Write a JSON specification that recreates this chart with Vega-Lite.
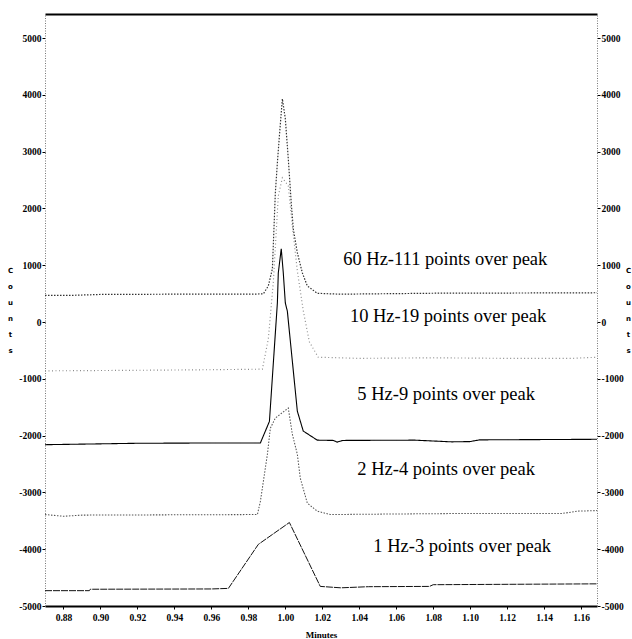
{
  "$schema": "https://vega.github.io/schema/vega-lite/v6.json",
  "width": 552,
  "height": 592,
  "autosize": {"type": "none"},
  "padding": {"left": 45, "top": 14, "right": 35, "bottom": 33},
  "background": "white",
  "config": {"view": {"stroke": null}},
  "datasets": {
    "traces": [
      {"t": 0.870, "c": 470, "s": "60 Hz"},
      {"t": 0.885, "c": 470, "s": "60 Hz"},
      {"t": 0.900, "c": 485, "s": "60 Hz"},
      {"t": 0.940, "c": 490, "s": "60 Hz"},
      {"t": 0.980, "c": 490, "s": "60 Hz"},
      {"t": 0.9881, "c": 495, "s": "60 Hz"},
      {"t": 0.9908, "c": 635, "s": "60 Hz"},
      {"t": 0.9930, "c": 935, "s": "60 Hz"},
      {"t": 0.9937, "c": 1520, "s": "60 Hz"},
      {"t": 0.9946, "c": 2275, "s": "60 Hz"},
      {"t": 0.9957, "c": 2800, "s": "60 Hz"},
      {"t": 0.9968, "c": 3280, "s": "60 Hz"},
      {"t": 0.9984, "c": 3930, "s": "60 Hz"},
      {"t": 1.0000, "c": 3580, "s": "60 Hz"},
      {"t": 1.0016, "c": 2875, "s": "60 Hz"},
      {"t": 1.0032, "c": 2100, "s": "60 Hz"},
      {"t": 1.0043, "c": 1640, "s": "60 Hz"},
      {"t": 1.0065, "c": 1220, "s": "60 Hz"},
      {"t": 1.0092, "c": 865, "s": "60 Hz"},
      {"t": 1.0119, "c": 635, "s": "60 Hz"},
      {"t": 1.0173, "c": 505, "s": "60 Hz"},
      {"t": 1.030, "c": 490, "s": "60 Hz"},
      {"t": 1.060, "c": 500, "s": "60 Hz"},
      {"t": 1.090, "c": 510, "s": "60 Hz"},
      {"t": 1.120, "c": 510, "s": "60 Hz"},
      {"t": 1.1686, "c": 515, "s": "60 Hz"},

      {"t": 0.870, "c": -860, "s": "10 Hz"},
      {"t": 0.920, "c": -850, "s": "10 Hz"},
      {"t": 0.960, "c": -840, "s": "10 Hz"},
      {"t": 0.9876, "c": -830, "s": "10 Hz"},
      {"t": 0.9908, "c": -300, "s": "10 Hz"},
      {"t": 0.9935, "c": 700, "s": "10 Hz"},
      {"t": 0.9951, "c": 1600, "s": "10 Hz"},
      {"t": 0.9962, "c": 2220, "s": "10 Hz"},
      {"t": 0.9984, "c": 2540, "s": "10 Hz"},
      {"t": 1.0016, "c": 2400, "s": "10 Hz"},
      {"t": 1.0038, "c": 1690, "s": "10 Hz"},
      {"t": 1.0065, "c": 900, "s": "10 Hz"},
      {"t": 1.0097, "c": 200, "s": "10 Hz"},
      {"t": 1.0130, "c": -350, "s": "10 Hz"},
      {"t": 1.0178, "c": -620, "s": "10 Hz"},
      {"t": 1.040, "c": -640, "s": "10 Hz"},
      {"t": 1.080, "c": -630, "s": "10 Hz"},
      {"t": 1.120, "c": -640, "s": "10 Hz"},
      {"t": 1.155, "c": -640, "s": "10 Hz"},
      {"t": 1.1686, "c": -620, "s": "10 Hz"},

      {"t": 0.870, "c": -2160, "s": "5 Hz"},
      {"t": 0.890, "c": -2150, "s": "5 Hz"},
      {"t": 0.920, "c": -2135, "s": "5 Hz"},
      {"t": 0.960, "c": -2130, "s": "5 Hz"},
      {"t": 0.9865, "c": -2130, "s": "5 Hz"},
      {"t": 0.9914, "c": -1750, "s": "5 Hz"},
      {"t": 0.9957, "c": 335, "s": "5 Hz"},
      {"t": 0.9962, "c": 865, "s": "5 Hz"},
      {"t": 0.9978, "c": 1290, "s": "5 Hz"},
      {"t": 0.9989, "c": 865, "s": "5 Hz"},
      {"t": 1.0000, "c": 335, "s": "5 Hz"},
      {"t": 1.0011, "c": 190, "s": "5 Hz"},
      {"t": 1.0065, "c": -1570, "s": "5 Hz"},
      {"t": 1.0097, "c": -1920, "s": "5 Hz"},
      {"t": 1.0173, "c": -2080, "s": "5 Hz"},
      {"t": 1.026, "c": -2085, "s": "5 Hz"},
      {"t": 1.028, "c": -2115, "s": "5 Hz"},
      {"t": 1.031, "c": -2085, "s": "5 Hz"},
      {"t": 1.070, "c": -2080, "s": "5 Hz"},
      {"t": 1.090, "c": -2110, "s": "5 Hz"},
      {"t": 1.100, "c": -2105, "s": "5 Hz"},
      {"t": 1.105, "c": -2075, "s": "5 Hz"},
      {"t": 1.1686, "c": -2065, "s": "5 Hz"},

      {"t": 0.870, "c": -3390, "s": "2 Hz"},
      {"t": 0.880, "c": -3420, "s": "2 Hz"},
      {"t": 0.890, "c": -3400, "s": "2 Hz"},
      {"t": 0.9849, "c": -3390, "s": "2 Hz"},
      {"t": 0.9865, "c": -3160, "s": "2 Hz"},
      {"t": 0.9903, "c": -2330, "s": "2 Hz"},
      {"t": 0.9919, "c": -1870, "s": "2 Hz"},
      {"t": 0.9946, "c": -1690, "s": "2 Hz"},
      {"t": 1.0016, "c": -1515, "s": "2 Hz"},
      {"t": 1.0038, "c": -1975, "s": "2 Hz"},
      {"t": 1.0065, "c": -2330, "s": "2 Hz"},
      {"t": 1.0081, "c": -2750, "s": "2 Hz"},
      {"t": 1.0119, "c": -3190, "s": "2 Hz"},
      {"t": 1.0173, "c": -3330, "s": "2 Hz"},
      {"t": 1.0243, "c": -3390, "s": "2 Hz"},
      {"t": 1.060, "c": -3380, "s": "2 Hz"},
      {"t": 1.100, "c": -3370, "s": "2 Hz"},
      {"t": 1.150, "c": -3370, "s": "2 Hz"},
      {"t": 1.158, "c": -3330, "s": "2 Hz"},
      {"t": 1.1686, "c": -3320, "s": "2 Hz"},

      {"t": 0.870, "c": -4730, "s": "1 Hz"},
      {"t": 0.894, "c": -4730, "s": "1 Hz"},
      {"t": 0.8945, "c": -4705, "s": "1 Hz"},
      {"t": 0.960, "c": -4700, "s": "1 Hz"},
      {"t": 0.9692, "c": -4690, "s": "1 Hz"},
      {"t": 0.9854, "c": -3915, "s": "1 Hz"},
      {"t": 1.0022, "c": -3530, "s": "1 Hz"},
      {"t": 1.0189, "c": -4655, "s": "1 Hz"},
      {"t": 1.030, "c": -4680, "s": "1 Hz"},
      {"t": 1.045, "c": -4660, "s": "1 Hz"},
      {"t": 1.078, "c": -4655, "s": "1 Hz"},
      {"t": 1.080, "c": -4625, "s": "1 Hz"},
      {"t": 1.1686, "c": -4610, "s": "1 Hz"}
    ],
    "labels": [
      {"t": 1.0865, "c": 1110, "label": "60 Hz-111 points over peak"},
      {"t": 1.0880, "c": 105, "label": "10 Hz-19 points over peak"},
      {"t": 1.0870, "c": -1270, "label": "5 Hz-9 points over peak"},
      {"t": 1.0870, "c": -2590, "label": "2 Hz-4 points over peak"},
      {"t": 1.0957, "c": -3950, "label": "1 Hz-3 points over peak"}
    ]
  },
  "resolve": {"axis": {"x": "independent", "y": "independent"}},
  "layer": [
    {
      "data": {"name": "traces"},
      "mark": {"type": "line", "interpolate": "linear", "strokeCap": "butt"},
      "encoding": {
        "x": {
          "field": "t", "type": "quantitative",
          "scale": {"domain": [0.870, 1.1686], "nice": false, "zero": false},
          "axis": {
            "orient": "bottom",
            "values": [0.88, 0.90, 0.92, 0.94, 0.96, 0.98, 1.00, 1.02, 1.04, 1.06, 1.08, 1.10, 1.12, 1.14, 1.16],
            "format": ".2f",
            "grid": false,
            "domainColor": "#000", "domainWidth": 2,
            "tickColor": "#000", "tickSize": 3, "tickWidth": 1,
            "labelFont": "Liberation Sans Narrow", "labelFontWeight": "bold", "labelFontSize": 9.5, "labelColor": "#000",
            "labelPadding": 3,
            "title": "Minutes",
            "titleFont": "Liberation Sans Narrow", "titleFontWeight": "bold", "titleFontSize": 9, "titleColor": "#000",
            "titleY": 24, "titleBaseline": "top"
          }
        },
        "y": {
          "field": "c", "type": "quantitative",
          "scale": {"domain": [-5000, 5423], "nice": false, "zero": false},
          "axis": {
            "orient": "left",
            "values": [-5000, -4000, -3000, -2000, -1000, 0, 1000, 2000, 3000, 4000, 5000],
            "labelExpr": "'' + datum.value",
            "grid": false,
            "domainColor": "#777", "domainDash": [1, 1.5], "domainWidth": 1,
            "tickColor": "#000", "tickSize": 3, "tickWidth": 1,
            "labelFont": "Liberation Sans Narrow", "labelFontWeight": "bold", "labelFontSize": 9.5, "labelColor": "#000",
            "labelPadding": 1,
            "title": ["C", "o", "u", "n", "t", "s"],
            "titleAngle": 0, "titleFont": "DejaVu Sans", "titleFontWeight": "bold", "titleFontSize": 7, "titleColor": "#000",
            "titleLineHeight": 16, "titleX": -35, "titleY": 252, "titleAlign": "center", "titleBaseline": "top"
          }
        },
        "detail": {"field": "s"},
        "color": {
          "field": "s", "type": "nominal", "legend": null,
          "scale": {"domain": ["60 Hz", "10 Hz", "5 Hz", "2 Hz", "1 Hz"], "range": ["#333333", "#8a8a8a", "#000000", "#555555", "#111111"]}
        },
        "strokeDash": {
          "field": "s", "type": "nominal", "legend": null,
          "scale": {"domain": ["60 Hz", "10 Hz", "5 Hz", "2 Hz", "1 Hz"], "range": [[1.5, 1.5], [1, 2.5], [1, 0], [1.5, 1.5], [7, 1]]}
        },
        "strokeWidth": {
          "field": "s", "type": "nominal", "legend": null,
          "scale": {"domain": ["60 Hz", "10 Hz", "5 Hz", "2 Hz", "1 Hz"], "range": [1.2, 1, 1.8, 1.1, 1.5]}
        }
      }
    },
    {
      "data": {"name": "labels"},
      "mark": {"type": "text", "font": "Liberation Serif", "fontSize": 18.5, "color": "#000", "align": "center", "baseline": "middle"},
      "encoding": {
        "x": {
          "field": "t", "type": "quantitative",
          "axis": {"orient": "top", "labels": false, "ticks": false, "grid": false, "title": null, "domainColor": "#000", "domainWidth": 2}
        },
        "y": {
          "field": "c", "type": "quantitative",
          "axis": {
            "orient": "right",
            "values": [-5000, -4000, -3000, -2000, -1000, 0, 1000, 2000, 3000, 4000, 5000],
            "labelExpr": "'' + datum.value",
            "grid": false,
            "domainColor": "#777", "domainDash": [1, 1.5], "domainWidth": 1,
            "tickColor": "#000", "tickSize": 3, "tickWidth": 1,
            "labelFont": "Liberation Sans Narrow", "labelFontWeight": "bold", "labelFontSize": 9.5, "labelColor": "#000",
            "labelPadding": 1,
            "title": ["C", "o", "u", "n", "t", "s"],
            "titleAngle": 0, "titleFont": "DejaVu Sans", "titleFontWeight": "bold", "titleFontSize": 7, "titleColor": "#000",
            "titleLineHeight": 16, "titleX": 31, "titleY": 252, "titleAlign": "center", "titleBaseline": "top"
          }
        },
        "text": {"field": "label"}
      }
    }
  ]
}
